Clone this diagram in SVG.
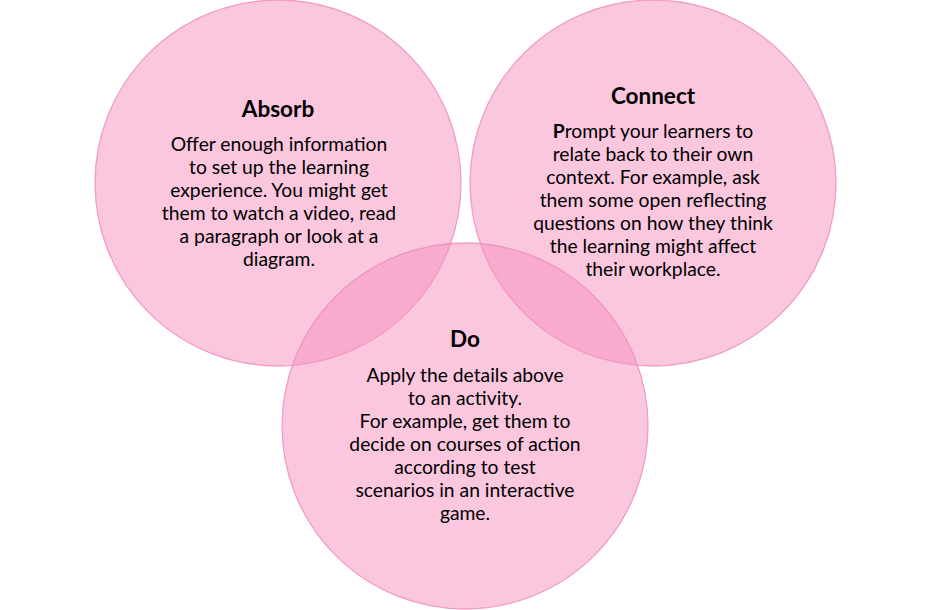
<svg xmlns="http://www.w3.org/2000/svg" width="931" height="610" viewBox="0 0 931 610">
<style>
.c{fill:#F78FBE;fill-opacity:0.5;stroke:#EC8CBC;stroke-width:1.3;stroke-opacity:0.8}
.t{font-family:Lato,"Open Sans",sans-serif;font-size:22.5px;font-weight:bold;fill:#000;text-anchor:middle}
.b{font-family:Lato,"Open Sans",sans-serif;font-size:19.3px;fill:#000;text-anchor:middle}
</style>
<rect width="931" height="610" fill="#fff"/>
<g id="absorb">
<circle class="c" cx="278" cy="183" r="183"/>
<text class="t" x="278" y="117">Absorb</text>
<text class="b" x="279" y="151">Offer enough information</text>
<text class="b" x="279" y="174">to set up the learning</text>
<text class="b" x="279" y="197">experience. You might get</text>
<text class="b" x="279" y="220">them to watch a video, read</text>
<text class="b" x="279" y="243">a paragraph or look at a</text>
<text class="b" x="279" y="266">diagram.</text>
</g>
<g id="connect">
<circle class="c" cx="653" cy="183" r="183"/>
<text class="t" x="653" y="104">Connect</text>
<text class="b" x="653" y="138"><tspan font-weight="bold">P</tspan>rompt your learners to</text>
<text class="b" x="653" y="161">relate back to their own</text>
<text class="b" x="653" y="184">context. For example, ask</text>
<text class="b" x="653" y="207">them some open reflecting</text>
<text class="b" x="653" y="230">questions on how they think</text>
<text class="b" x="653" y="253">the learning might affect</text>
<text class="b" x="653" y="276">their workplace.</text>
</g>
<g id="do">
<circle class="c" cx="465" cy="426" r="183"/>
<text class="t" x="465" y="347">Do</text>
<text class="b" x="465" y="382">Apply the details above</text>
<text class="b" x="465" y="405">to an activity.</text>
<text class="b" x="465" y="428">For example, get them to</text>
<text class="b" x="465" y="451">decide on courses of action</text>
<text class="b" x="465" y="474">according to test</text>
<text class="b" x="465" y="497">scenarios in an interactive</text>
<text class="b" x="465" y="520">game.</text>
</g>
<g id="connectors"/>
</svg>
